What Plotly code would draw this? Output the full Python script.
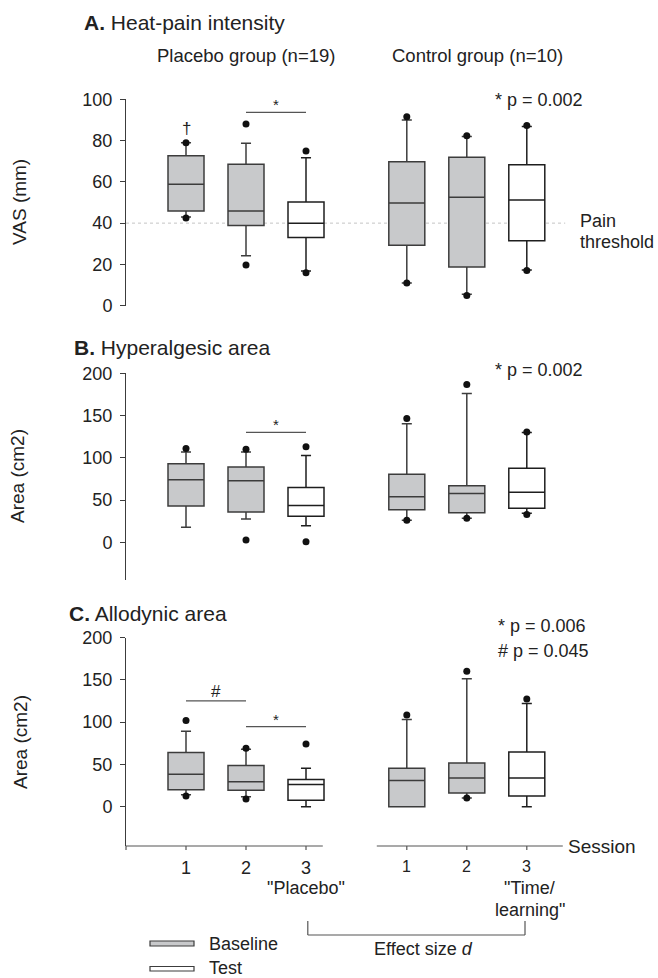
import plotly.graph_objects as go

W, H = 658, 978

sessions = ["1", "2", "3"]
group_labels = ["Placebo group (n=19)", "Control group (n=10)"]
session3_labels = ['"Placebo"', '"Time/', 'learning"']

# order of every list: placebo S1, S2, S3, control S1, S2, S3
# Panel A: heat-pain intensity, VAS (mm)
a_q1 = [45.9, 38.8, 33.0, 29.3, 18.8, 31.5]
a_med = [58.8, 45.9, 40.0, 49.8, 52.5, 51.2]
a_q3 = [72.7, 68.5, 50.3, 69.8, 71.9, 68.3]
a_lo = [43.0, 24.2, 16.8, 11.0, 5.5, 17.3]
a_hi = [79.0, 78.7, 71.7, 90.0, 82.0, 86.8]
a_dots = [[79, 42.5], [88, 19.7], [75, 16], [91.6, 11], [82.4, 5], [87.3, 17]]

# Panel B: hyperalgesic area (cm2)
b_q1 = [42.9, 35.8, 30.7, 38.5, 35.0, 40.2]
b_med = [74.0, 72.8, 43.7, 53.9, 57.9, 59.1]
b_q3 = [92.9, 89.0, 65.0, 80.4, 66.9, 87.5]
b_lo = [17.7, 27.5, 19.6, 26.0, 28.4, 34.3]
b_hi = [107.0, 107.0, 102.8, 140.2, 176.0, 130.0]
b_dots = [[111], [110, 2.7], [113, 0.7], [146.6, 26], [186.8, 28.4], [130.5, 33]]

# Panel C: allodynic area (cm2)
c_q1 = [20.1, 19.4, 7.6, 0.0, 16.2, 12.7]
c_med = [38.4, 29.6, 26.1, 30.8, 34.0, 34.0]
c_q3 = [64.0, 48.6, 32.0, 45.5, 51.8, 64.8]
c_lo = [14.2, 11.8, 0.0, 0.0, 10.3, 0.0]
c_hi = [89.3, 68.0, 45.5, 103.1, 151.3, 122.2]
c_dots = [[101.9, 12.7], [69.2, 9.1], [74.3], [108.6], [160.4, 10.3], [127.3]]

pvalues = {
    "A": ["* p = 0.002"],
    "B": ["* p = 0.002"],
    "C": ["* p = 0.006", "# p = 0.045"],
}

# ---------------- layout helpers ----------------
GAP = 3.68          # offset of control group positions
pos = [1, 2, 3, 1 + GAP, 2 + GAP, 3 + GAP]
is_test = [False, False, True, False, False, True]

def X(px):
    return px / W

def Y(py):
    return 1 - py / H

X0 = 126
UNIT = 60.0
x_dom = [X(X0), 1]
x_rng = [0, (W - X0) / UNIT]

def XP(v):
    # paper x of a position on the session axis
    return x_dom[0] + (x_dom[1] - x_dom[0]) * (v - x_rng[0]) / (x_rng[1] - x_rng[0])

GRAY = "#c8c9cb"
EDGE = "#3c3c3c"
TXT = "#222222"
FONT = "Liberation Sans, Arial, sans-serif"

panels = [
    dict(q1=a_q1, med=a_med, q3=a_q3, lo=a_lo, hi=a_hi, dots=a_dots,
         dom=[Y(305.7), Y(99.3)], rng=[0, 100], ticks=[0, 20, 40, 60, 80, 100]),
    dict(q1=b_q1, med=b_med, q3=b_q3, lo=b_lo, hi=b_hi, dots=b_dots,
         dom=[Y(580), Y(373.3)], rng=[-44.6, 200], ticks=[0, 50, 100, 150, 200]),
    dict(q1=c_q1, med=c_med, q3=c_q3, lo=c_lo, hi=c_hi, dots=c_dots,
         dom=[Y(846), Y(637.7)], rng=[-46.6, 200], ticks=[0, 50, 100, 150, 200]),
]

fig = go.Figure()
layout = dict(template="none", width=W, height=H,
              margin=dict(l=0, r=0, t=0, b=0, pad=0, autoexpand=False),
              paper_bgcolor="white", plot_bgcolor="white", showlegend=False,
              boxmode="overlay", font=dict(family=FONT, color=TXT, size=17))

for k, p in enumerate(panels, start=1):
    xa = "x" if k == 1 else f"x{k}"
    ya = "y" if k == 1 else f"y{k}"
    for test in (False, True):
        idx = [i for i in range(6) if is_test[i] == test]
        fig.add_trace(go.Box(
            x=[pos[i] for i in idx],
            q1=[p["q1"][i] for i in idx], median=[p["med"][i] for i in idx],
            q3=[p["q3"][i] for i in idx], lowerfence=[p["lo"][i] for i in idx],
            upperfence=[p["hi"][i] for i in idx],
            width=0.6, whiskerwidth=0.28, boxpoints=False,
            fillcolor="white" if test else GRAY,
            line=dict(color="#1e1e1e" if test else EDGE, width=1.5),
            xaxis=xa, yaxis=ya, hoverinfo="skip"))
    dx, dy = [], []
    for i in range(6):
        for v in p["dots"][i]:
            dx.append(pos[i])
            dy.append(v)
    fig.add_trace(go.Scatter(x=dx, y=dy, mode="markers",
                             marker=dict(size=7, color="#111111"),
                             xaxis=xa, yaxis=ya, cliponaxis=False, hoverinfo="skip"))
    xkey = "xaxis" if k == 1 else f"xaxis{k}"
    ykey = "yaxis" if k == 1 else f"yaxis{k}"
    layout[xkey] = dict(domain=x_dom, range=x_rng, visible=False, anchor=ya,
                        automargin=False, showgrid=False, zeroline=False)
    layout[ykey] = dict(domain=p["dom"], range=p["rng"], anchor=xa, automargin=False,
                        tickvals=p["ticks"], ticks="outside", ticklen=5,
                        tickcolor=EDGE, showline=True, linecolor=EDGE, linewidth=1,
                        showgrid=False, zeroline=False, ticklabelstandoff=4,
                        tickfont=dict(size=18, color=TXT, family=FONT))

shapes = []
annotations = []

def ann(text, x, y, size=17, xanchor="center", yanchor="middle", **kw):
    annotations.append(dict(text=text, x=x, y=y, xref="paper", yref="paper",
                            showarrow=False, xanchor=xanchor, yanchor=yanchor,
                            font=dict(size=size, color=TXT, family=FONT), **kw))

# titles
ann("<b>A.</b> Heat-pain intensity", X(82), Y(22), size=21, xanchor="left")
ann("<b>B.</b> Hyperalgesic area", X(72), Y(347), size=21, xanchor="left")
ann("<b>C.</b> Allodynic area", X(67), Y(613), size=21, xanchor="left")
ann(group_labels[0], X(246), Y(55), size=18.5)
ann(group_labels[1], X(477), Y(55), size=18.5)

# y axis titles
ann("VAS (mm)", X(19), Y(202), size=19, textangle=-90)
ann("Area (cm2)", X(18), Y(476), size=19, textangle=-90)
ann("Area (cm2)", X(20), Y(742), size=19, textangle=-90)

# p-values
ann(pvalues["A"][0], X(493), Y(100), size=18, xanchor="left")
ann(pvalues["B"][0], X(493), Y(370), size=18, xanchor="left")
ann(pvalues["C"][0], X(496), Y(626), size=18, xanchor="left")
ann(pvalues["C"][1], X(496), Y(651), size=18, xanchor="left")

# pain threshold line (behind the boxes)
shapes.append(dict(type="line", xref="x", yref="y", x0=0, x1=7.32, y0=40, y1=40,
                   layer="below", line=dict(color="#c4c4c4", width=1, dash="dot")))
ann("Pain", X(578), Y(221), size=18, xanchor="left")
ann("threshold", X(578), Y(242), size=18, xanchor="left")

# significance bars
def sigbar(xa, ya, x0, x1, y, sym, size=15, shift=-3):
    shapes.append(dict(type="line", xref=xa, yref=ya, x0=x0, x1=x1, y0=y, y1=y,
                       line=dict(color="#555555", width=1.2)))
    annotations.append(dict(text=sym, x=(x0 + x1) / 2, y=y, xref=xa, yref=ya,
                            showarrow=False, yanchor="bottom", yshift=shift,
                            font=dict(size=size, color=TXT, family=FONT)))

sigbar("x", "y", pos[1], pos[2], 93.7, "*")
sigbar("x2", "y2", pos[1], pos[2], 130, "*")
sigbar("x3", "y3", pos[0], pos[1], 125.2, "#", size=17, shift=-2)
sigbar("x3", "y3", pos[1], pos[2], 94.8, "*")
annotations.append(dict(text="†", x=pos[0], y=86, xref="x", yref="y", showarrow=False,
                        font=dict(size=17, color=TXT, family=FONT)))

# session axis (panel C), split in two segments
AX_Y = Y(846)
AXC = dict(color="#555555", width=1.2)
shapes.append(dict(type="line", xref="paper", yref="paper", x0=XP(0), x1=XP(3.28),
                   y0=AX_Y, y1=AX_Y, line=AXC))
shapes.append(dict(type="line", xref="paper", yref="paper", x0=XP(4.18), x1=XP(7.28),
                   y0=AX_Y, y1=AX_Y, line=AXC))
for xv in [0] + pos:
    shapes.append(dict(type="line", xref="paper", yref="paper", x0=XP(xv), x1=XP(xv),
                       y0=AX_Y, y1=Y(850), line=AXC))
ann("Session", X(566), Y(846), size=19, xanchor="left")
for i in range(6):
    ann(sessions[i % 3], XP(pos[i]), Y(868 if i < 3 else 866), size=18 if i < 3 else 16)
ann(session3_labels[0], XP(pos[2]), Y(888), size=18)
ann(session3_labels[1], XP(pos[5] + 0.05), Y(888), size=18)
ann(session3_labels[2], XP(pos[5] + 0.05), Y(910), size=18)

# effect size bracket
BR_TOP, BR_BOT = Y(921), Y(935)
bl, br = XP(pos[2] + 0.03), XP(pos[5] - 0.03)
for xv in (bl, br):
    shapes.append(dict(type="line", xref="paper", yref="paper", x0=xv, x1=xv,
                       y0=BR_TOP, y1=BR_BOT, line=AXC))
shapes.append(dict(type="line", xref="paper", yref="paper", x0=bl, x1=br,
                   y0=BR_BOT, y1=BR_BOT, line=AXC))
ann("Effect size <i>d</i>", X(423), Y(949), size=18)

# legend
shapes.append(dict(type="rect", xref="paper", yref="paper", x0=X(150), x1=X(194),
                   y0=Y(946), y1=Y(941), fillcolor=GRAY, line=dict(color=EDGE, width=1.2)))
shapes.append(dict(type="rect", xref="paper", yref="paper", x0=X(150), x1=X(194),
                   y0=Y(971), y1=Y(966.5), fillcolor="white", line=dict(color=EDGE, width=1.2)))
ann("Baseline", X(207), Y(944), size=18, xanchor="left")
ann("Test", X(207), Y(968), size=18, xanchor="left")

layout["shapes"] = shapes
layout["annotations"] = annotations
fig.update_layout(**layout)
fig.write_html("out.html", config={"displayModeBar": False},
               post_script="document.body.style.margin='0';")
